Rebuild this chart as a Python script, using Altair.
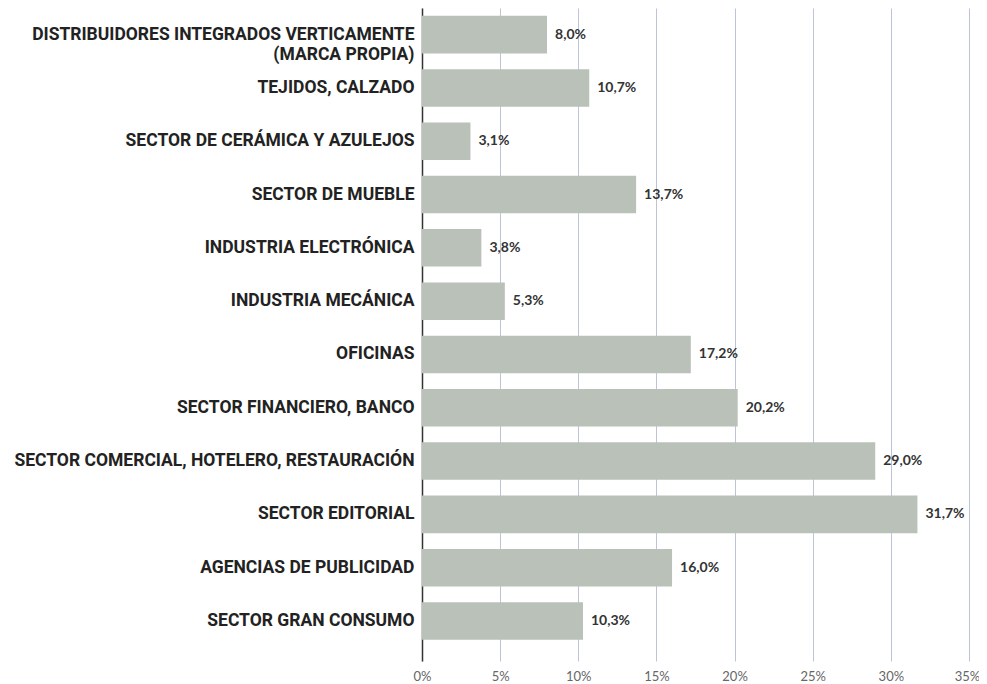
import altair as alt
import pandas as pd

categories = [
    "DISTRIBUIDORES INTEGRADOS VERTICAMENTE|(MARCA PROPIA)",
    "TEJIDOS, CALZADO",
    "SECTOR DE CERÁMICA Y AZULEJOS",
    "SECTOR DE MUEBLE",
    "INDUSTRIA ELECTRÓNICA",
    "INDUSTRIA MECÁNICA",
    "OFICINAS",
    "SECTOR FINANCIERO, BANCO",
    "SECTOR COMERCIAL, HOTELERO, RESTAURACIÓN",
    "SECTOR EDITORIAL",
    "AGENCIAS DE PUBLICIDAD",
    "SECTOR GRAN CONSUMO",
]
values = [8.0, 10.7, 3.1, 13.7, 3.8, 5.3, 17.2, 20.2, 29.0, 31.7, 16.0, 10.3]
x_ticks = [0, 5, 10, 15, 20, 25, 30, 35]

df = pd.DataFrame({"cat": categories, "val": values})

y_scale = alt.Scale(domain=categories, paddingInner=0.296, paddingOuter=0.273, align=0.27)
x_scale = alt.Scale(domain=[0, 35], nice=False)

base = alt.Chart(df).encode(
    y=alt.Y("cat:N", sort=categories, scale=y_scale, title=None,
            axis=alt.Axis(labelExpr="split(datum.value, '|')", labelFont="Roboto",
                          labelFontWeight="bold", labelFontSize=17.5, labelColor="#222222",
                          labelPadding=8, ticks=False, domain=True, domainColor="#333333",
                          domainWidth=1.5, labelLineHeight=20, labelLimit=0)),
)

bars = base.mark_bar(color="#b9c1b8").encode(
    x=alt.X("val:Q", scale=x_scale, title=None,
            axis=alt.Axis(values=x_ticks, labelExpr="datum.value + '%'", grid=True,
                          gridColor="#bcc5d8", gridWidth=1, domain=False, ticks=False,
                          labelFont="Lato", labelFontSize=13, labelColor="#666666",
                          labelPadding=9, labelFlush=False,
                          labelOffset={"condition": {"test": "datum.value == 35", "value": -2},
                                       "value": 0})),
)

text = base.mark_text(align="left", baseline="middle", dx=8, font="Lato",
                      fontWeight="bold", fontSize=14, color="#333333").transform_calculate(
    lbl="replace(format(datum.val, '.1f'), '.', ',') + '%'"
).encode(
    x=alt.X("val:Q", scale=x_scale),
    text="lbl:N",
)

chart = (bars + text).properties(
    width=547, height=653,
    autosize=alt.AutoSizeParams(type="none"),
    padding={"left": 414, "top": 0, "right": 10, "bottom": 22},
).configure(background="white").configure_view(stroke=None)

chart.save("out.html", embed_options={"renderer": "svg", "actions": False})
